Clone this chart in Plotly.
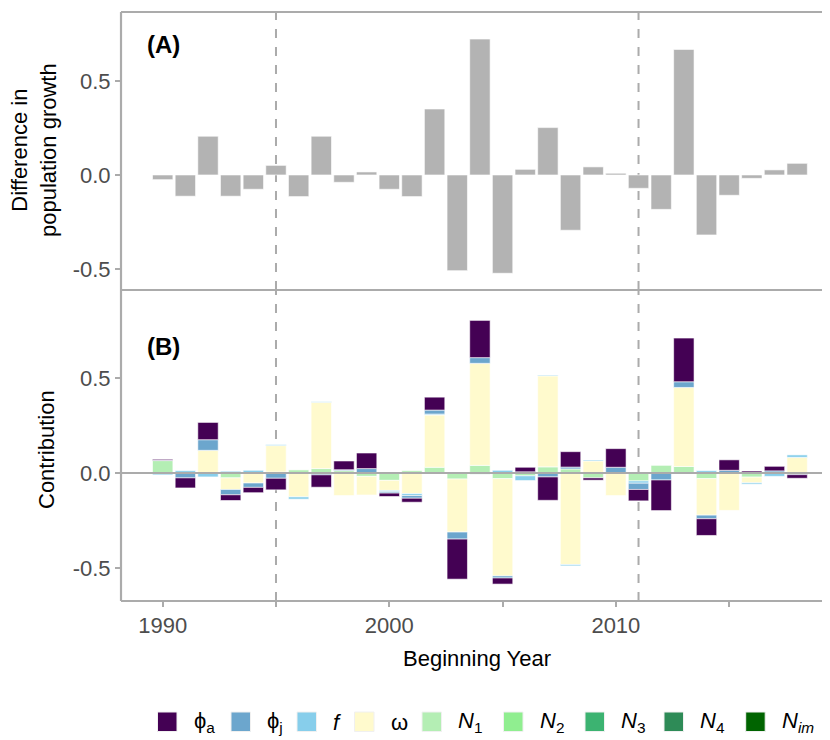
import plotly.graph_objects as go
from plotly.subplots import make_subplots

years = list(range(1990, 2019))

# Panel A: difference in population growth
diff_growth = [-0.025, -0.113, 0.206, -0.113, -0.076, 0.051, -0.115, 0.206, -0.039, 0.016,
               -0.076, -0.115, 0.351, -0.509, 0.723, -0.523, 0.030, 0.252, -0.294, 0.043,
               0.009, -0.071, -0.183, 0.668, -0.319, -0.108, -0.018, 0.027, 0.062]

# Panel B: contributions (None = no contribution drawn)
phi_a = [0.005, -0.053, 0.091, -0.030, -0.028, -0.061, None, -0.065, 0.046, 0.082,
         -0.018, -0.021, 0.068, -0.211, 0.196, -0.032, 0.024, -0.123, 0.081, -0.012,
         0.098, -0.060, -0.161, 0.230, -0.088, 0.055, 0.010, 0.024, -0.019]
phi_j = [0.002, -0.026, 0.056, -0.028, -0.023, -0.028, None, -0.010, 0.005, 0.023,
         -0.007, -0.014, 0.021, -0.037, 0.030, -0.011, 0.006, -0.021, 0.010, None,
         0.030, -0.033, -0.037, 0.030, -0.019, 0.014, None, 0.011, -0.009]
f_fec = [-0.010, 0.012, -0.021, 0.009, 0.014, 0.005, -0.012, 0.003, None, None,
         -0.007, -0.010, 0.005, None, None, 0.014, -0.025, 0.004, -0.007, 0.005,
         None, -0.012, None, None, 0.012, None, -0.007, -0.018, 0.013]
omega = [None, None, 0.119, -0.061, -0.053, 0.139, -0.126, 0.349, -0.119, -0.098,
         -0.053, -0.109, 0.275, -0.279, 0.537, -0.512, None, 0.479, -0.482, 0.063,
         -0.119, None, None, 0.416, -0.192, -0.197, -0.030, None, 0.082]
N1 = [0.065, None, None, -0.026, None, 0.005, 0.016, 0.023, 0.012, -0.018,
      -0.039, 0.012, 0.030, -0.032, 0.040, -0.030, -0.015, 0.032, 0.021, -0.026,
      None, -0.042, 0.040, 0.034, -0.030, None, -0.022, None, None]
N2 = [None] * 29
N3 = [None, None, None, None, None, None, None, None, None, None,
      None, None, None, None, -0.006, None, None, None, None, None,
      None, None, None, None, None, None, None, None, None]
N4 = [None] * 29
N_im = [None] * 29

comp_names = ["ϕ<sub>a</sub>", "ϕ<sub>j</sub>", "<i>f</i>", "ω",
              "<i>N</i><sub>1</sub>", "<i>N</i><sub>2</sub>", "<i>N</i><sub>3</sub>",
              "<i>N</i><sub>4</sub>", "<i>N</i><sub><i>im</i></sub>"]
comp_values = [phi_a, phi_j, f_fec, omega, N1, N2, N3, N4, N_im]
comp_colors = ["#440154", "#6CA6CD", "#87CEEB", "#FFFACD", "#B4EEB4",
               "#90EE90", "#3CB371", "#2E8B57", "#006400"]

year_ticks = [1990, 1995, 2000, 2005, 2010, 2015]
year_ticklabels = ["1990", " ", "2000", " ", "2010", " "]
y_ticks = [-0.5, 0.0, 0.5]
y_ticklabels = ["-0.5", "0.0", "0.5"]
period_breaks = [1995, 2011]

GRAY = "#ABABAB"
TICK_COL = "#4D4D4D"
FONT = "Liberation Sans, Arial, sans-serif"
FS = 22

fig = make_subplots(rows=2, cols=1, shared_xaxes=True, vertical_spacing=0,
                    row_heights=[278, 311])

fig.add_trace(go.Bar(x=years, y=diff_growth, width=0.9,
                     marker=dict(color="#B3B3B3", line=dict(color="white", width=0.6)),
                     showlegend=False), row=1, col=1)

# stack order: greens closest to zero, phi_a farthest
for name, vals, col in reversed(list(zip(comp_names, comp_values, comp_colors))):
    fig.add_trace(go.Bar(x=years, y=vals, width=0.9, name=name,
                         marker=dict(color=col, line=dict(color="white", width=0.6)),
                         showlegend=False), row=2, col=1)

# page body has an 8px margin: figure is placed at (8, 8) in the window
OFF = 8
W, H = 830 - OFF, 740 - OFF
ml, mr, mt, mb = 121 - OFF, 0, 12 - OFF, 740 - 601
pw, ph = W - ml - mr, H - mt - mb


def px_x(px):
    return (px - OFF - ml) / pw


def px_y(py):
    return (H - mb - (py - OFF)) / ph


fig.update_layout(
    width=W, height=H, barmode="relative",
    margin=dict(l=ml, r=mr, t=mt, b=mb),
    plot_bgcolor="white", paper_bgcolor="white",
    font=dict(family=FONT, size=FS, color=TICK_COL),
    showlegend=False,
)

xr = [1988.16, 2019.45]
fig.update_xaxes(range=xr, showgrid=False, zeroline=False, showline=False)
fig.update_xaxes(showticklabels=False, ticks="", row=1, col=1)
fig.update_xaxes(tickvals=year_ticks, ticktext=year_ticklabels, ticks="outside",
                 ticklen=5, tickwidth=2, tickcolor=GRAY,
                 tickfont=dict(size=FS, color=TICK_COL), row=2, col=1)
fig.update_yaxes(showgrid=False, zeroline=False, showline=False,
                 tickvals=y_ticks, ticktext=y_ticklabels, ticks="outside",
                 ticklen=5, tickwidth=2, tickcolor=GRAY,
                 tickfont=dict(size=FS, color=TICK_COL))
fig.update_yaxes(range=[-0.612, 0.867], row=1, col=1)
fig.update_yaxes(range=[-0.674, 0.963], row=2, col=1)

shapes = []
# dashed period lines (behind bars)
for yr in period_breaks:
    for yref in ["y domain", "y2 domain"]:
        shapes.append(dict(type="line", xref="x", yref=yref, x0=yr, x1=yr, y0=0, y1=1,
                           line=dict(color=GRAY, width=2, dash="9px,9px"), layer="below"))
# zero line in panel B (above bars)
shapes.append(dict(type="line", xref="paper", yref="y2", x0=0, x1=1, y0=0, y1=0,
                   line=dict(color=GRAY, width=2), layer="above"))
# panel borders
border = dict(color=GRAY, width=2.2)
y_div = px_y(290)
shapes += [
    dict(type="line", xref="paper", yref="paper", x0=0, x1=1.01, y0=1, y1=1, line=border, layer="above"),
    dict(type="line", xref="paper", yref="paper", x0=0, x1=1.01, y0=y_div, y1=y_div, line=border, layer="above"),
    dict(type="line", xref="paper", yref="paper", x0=0, x1=1.01, y0=0, y1=0, line=border, layer="above"),
    dict(type="line", xref="paper", yref="paper", x0=0, x1=0, y0=0, y1=1, line=border, layer="above"),
]

annotations = [
    dict(text="<b>(A)</b>", xref="paper", yref="paper", x=px_x(145), y=px_y(45),
         xanchor="left", yanchor="middle", showarrow=False,
         font=dict(size=24, color="black", family=FONT)),
    dict(text="<b>(B)</b>", xref="paper", yref="paper", x=px_x(145), y=px_y(346),
         xanchor="left", yanchor="middle", showarrow=False,
         font=dict(size=24, color="black", family=FONT)),
    dict(text="Difference in<br>population growth", xref="paper", yref="paper",
         x=px_x(34), y=px_y(150), textangle=-90, showarrow=False,
         xanchor="center", yanchor="middle",
         font=dict(size=FS, color="black", family=FONT)),
    dict(text="Contribution", xref="paper", yref="paper",
         x=px_x(46), y=px_y(450), textangle=-90, showarrow=False,
         xanchor="center", yanchor="middle",
         font=dict(size=FS, color="black", family=FONT)),
    dict(text="Beginning Year", xref="paper", yref="paper",
         x=px_x(477), y=px_y(658), showarrow=False,
         xanchor="center", yanchor="middle",
         font=dict(size=FS, color="black", family=FONT)),
]

# legend drawn manually (large square keys)
key_left = [157.5, 231, 297, 354.5, 422, 503.5, 585, 664, 745.7]
for kx, name, col in zip(key_left, comp_names, comp_colors):
    shapes.append(dict(type="rect", xref="paper", yref="paper",
                       x0=px_x(kx), x1=px_x(kx + 19.5), y0=px_y(712), y1=px_y(731.5),
                       fillcolor=col, line=dict(color="#F0F0F0", width=1), layer="above"))
    annotations.append(dict(text=name, xref="paper", yref="paper",
                            x=px_x(kx + 34), y=px_y(722), xanchor="left", yanchor="middle",
                            showarrow=False, font=dict(size=FS, color="black", family=FONT)))

fig.update_layout(shapes=shapes, annotations=annotations)
fig.write_html("out.html")
